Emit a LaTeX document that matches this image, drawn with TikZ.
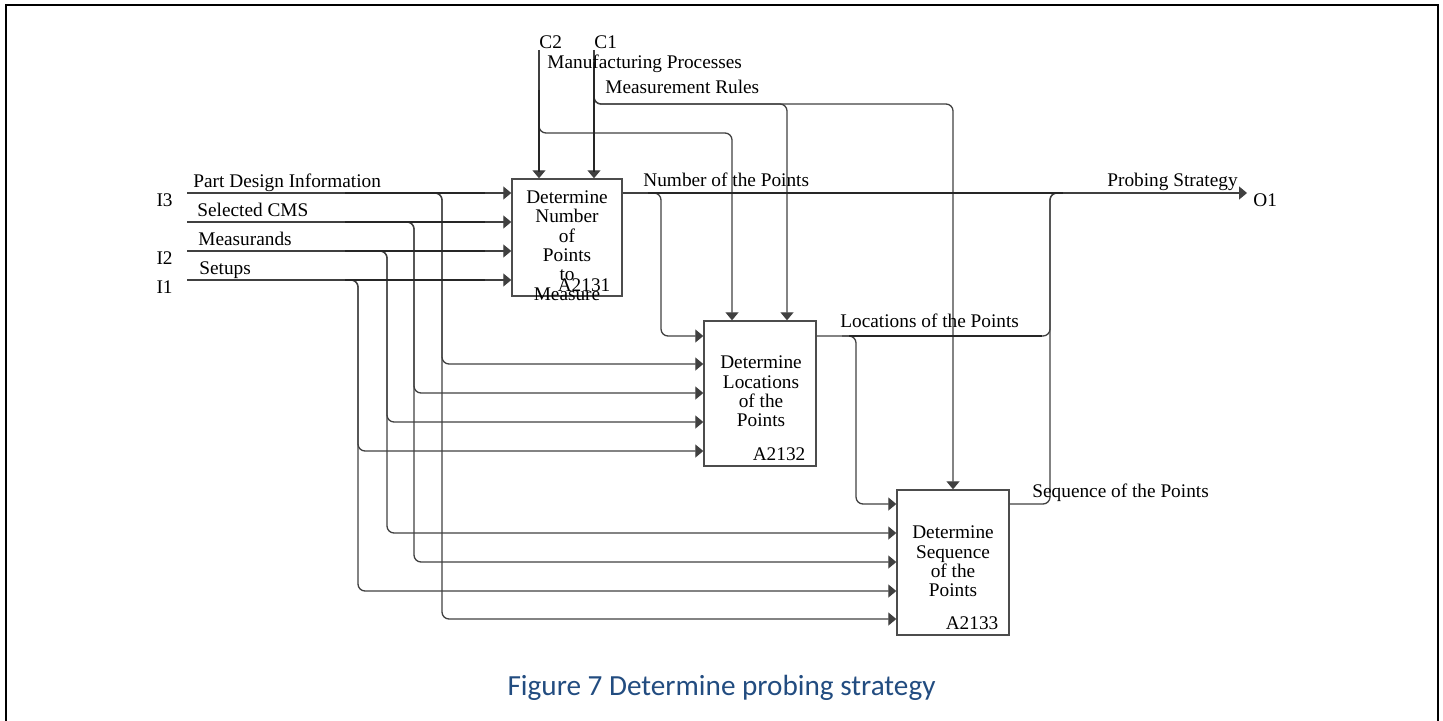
\documentclass[tikz,border=0pt]{standalone}
\usepackage{fontspec}
\setmainfont{Liberation Serif}
\newfontfamily\capfont{Carlito}
\usepackage{xcolor}
\usetikzlibrary{arrows.meta}
\definecolor{capblue}{RGB}{34,76,128}
\newcommand{\lblfont}{\fontsize{9.65}{9.7}\selectfont}
\tikzset{
  wire/.style={draw=black!75, line width=0.65pt, rounded corners=3.5pt},
  flow/.style={wire, -{Triangle[length=4pt,width=6.5pt]}},
  dup/.style={draw=black!85, line width=1.1pt},
  actbox/.style={draw=black!70, line width=0.7pt, inner sep=0pt,
    minimum width=56pt, minimum height=72.5pt},
  acttext/.style={align=center, font=\lblfont, inner sep=0pt},
  actnum/.style={anchor=base east, font=\lblfont, inner sep=0pt},
  arrlabel/.style={anchor=base west, font=\lblfont, inner sep=0pt},
  icom/.style={anchor=base east, font=\lblfont, inner sep=0pt}
}
\begin{document}
\begin{tikzpicture}[x=0.5pt,y=-0.5pt]
      \useasboundingbox (0,0) rectangle (1443,721);
      \draw[line width=1pt] (6,721) -- (6,5) -- (1438,5) -- (1438,721);
      \node[actbox, minimum width=55pt, minimum height=58.5pt] (b1) at (567,237.5) {};
      \node[actbox] (b2) at (760,393.5) {};
      \node[actbox] (b3) at (953,562.5) {};
      \node[acttext] (t1) at (567,245.5) {Determine\\Number\\of\\Points\\to\\Measure};
      \node[acttext] (t2) at (761,391.5) {Determine\\Locations\\of the\\Points};
      \node[acttext] (t3) at (953,561.5) {Determine\\Sequence\\of the\\Points};
      \node[actnum] (n1) at ([xshift=-6pt,yshift=2.6pt]b1.south east) {A2131};
      \node[actnum] (n2) at ([xshift=-5.5pt,yshift=3pt]b2.south east) {A2132};
      \node[actnum] (n3) at ([xshift=-5.5pt,yshift=3pt]b3.south east) {A2133};
      \foreach \nm/\yy/\xb/\ya/\yb in {pdi/193/442/364/619, cms/222/414/393/562,
          msr/251/387/422/533, set/280/358/451/591} {
        \coordinate (\nm) at (187,\yy);
        \draw[flow] (\nm) -- (\nm -| b1.west);
        \draw[flow] ({\xb-14},\yy) -| (\xb,\ya) -- (b2.west |- 0,\ya);
        \draw[flow] ({\xb-14},\yy) -| (\xb,\yb) -- (b3.west |- 0,\yb);
        \draw[dup] (345,\yy) -- (485,\yy);
      }
      \node[arrlabel] (lpdi) at (193,188) {Part Design Information};
      \node[arrlabel] (lcms) at (197,217) {Selected CMS};
      \node[arrlabel] (lmsr) at (198,246) {Measurands};
      \node[arrlabel] (lset) at (199,275) {Setups};
      \node[icom] (i3) at (173,206.5) {I3};
      \node[icom] (i2) at (173,264.5) {I2};
      \node[icom] (i1) at (173,293.5) {I1};
      \coordinate (c2) at (539,50);
      \coordinate (c1) at (594,50);
      \draw[flow] (c2) -- (c2 |- b1.north);
      \draw[flow] (c1) -- (c1 |- b1.north);
      \draw[flow] (539,118) |- (732,133) -- (732,0 |- b2.north);
      \draw[flow] (594,90) |- (787,104) -- (787,0 |- b2.north);
      \draw[flow] (594,90) |- (953,104) -- (953,0 |- b3.north);
      \draw[dup] (539,90) -- (539,172);
      \draw[dup] (594,62) -- (594,172);
      \node[arrlabel] (lc2) at (539,49) {C2};
      \node[arrlabel] (lc1) at (594,49) {C1};
      \node[arrlabel] (lmp) at (547,69) {Manufacturing Processes};
      \node[arrlabel] (lmr) at (605,94) {Measurement Rules};
      \coordinate (o1) at (1247,193);
      \draw[flow] (b1.east |- pdi) -- (o1);
      \draw[flow] (647,193) -| (661,336) -- (b2.west |- 0,336);
      \draw[wire] (b2.east |- 0,336) -| (1050,193) -- (1064,193);
      \draw[flow] (842,336) -| (856,504) -- (b3.west |- 0,504);
      \draw[wire] (b3.east |- 0,504) -| (1050,193) -- (1064,193);
      \draw[dup] (648,193) -- (1063,193);
      \draw[dup] (849,336) -- (1042,336);
      \node[arrlabel] (lnum) at (643,187) {Number of the Points};
      \node[arrlabel] (lloc) at (840,328) {Locations of the Points};
      \node[arrlabel] (lseq) at (1032,497) {Sequence of the Points};
      \node[arrlabel] (lps) at (1107,187) {Probing Strategy};
      \node[arrlabel] (lo1) at (1253,206.5) {O1};
      \node[anchor=base, inner sep=0pt, text=capblue,
        font=\capfont\fontsize{14.6}{17}\selectfont] (cap) at (721.5,695)
        {Figure 7 Determine probing strategy};
    \end{tikzpicture}
\end{document}
